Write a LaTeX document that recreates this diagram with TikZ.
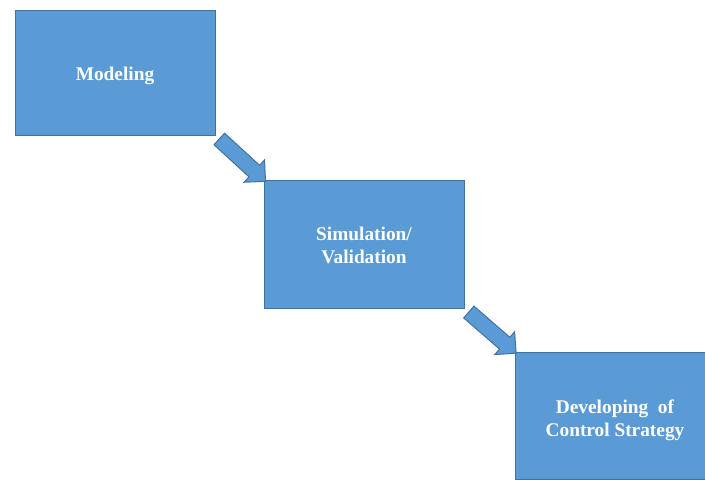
\documentclass[tikz,border=0pt]{standalone}
\usepackage{fontspec}
\setmainfont{Liberation Serif}
\usetikzlibrary{positioning, calc, shapes.arrows}
\definecolor{boxc}{RGB}{91,155,213}
\definecolor{edgec}{RGB}{65,113,156}
\tikzset{
  stagebox/.style={draw=edgec, fill=boxc, line width=0.75pt, minimum width=150pt,
                   minimum height=#1},
  stagebox/.default=94pt,
  stagetext/.style={align=center, text=white, inner sep=0pt,
                    font=\fontsize{14.5}{17.75}\selectfont\bfseries},
  blockarrow/.style={single arrow, draw=edgec, fill=boxc, line width=0.75pt,
                     minimum height=47pt, inner xsep=0pt, inner ysep=5.5pt,
                     single arrow head extend=5.5pt, single arrow tip angle=90},
}

\begin{document}
\begin{tikzpicture}[x=0.75pt, y=-0.75pt]
  \useasboundingbox (0,0) rectangle (705,479);
  % stages
  \node[stagebox=93.75pt] (model) at (115,72.5) {};
  \node[stagebox=96pt] (simval) at (364,244) {};
  \node[stagebox=95.25pt] (ctrl) at (615,415.5) {};
  \node[stagetext] (model-t) at ([yshift=-2.25pt]model.center) {Modeling};
  \node[stagetext] (simval-t) at ([yshift=-1pt]simval.center) {Simulation/\\Validation};
  \node[stagetext] (ctrl-t) at ([yshift=-3.5pt]ctrl.center) {Developing~ of\\Control Strategy};

  % block arrows between stages
  \node[blockarrow, rotate=-42.5] (a1) at ($(model.south east)!0.5!(simval.north west)$) {};
  \node[blockarrow, rotate=-41] (a2) at ($(simval.south east)!0.5!(ctrl.north west)$) {};
\end{tikzpicture}
\end{document}
